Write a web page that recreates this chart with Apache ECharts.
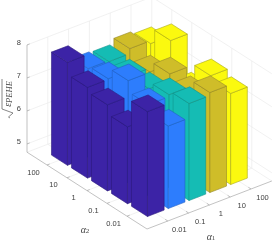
<!DOCTYPE html>
<html><head><meta charset="utf-8">
<style>html,body{margin:0;padding:0;background:#fff}#c{width:275px;height:241px}</style>
<script src="https://cdn.jsdelivr.net/npm/echarts@6/dist/echarts.min.js"></script>
</head><body><div id="c"></div>
<script>
// Data: rows indexed by alpha1, values ordered by alpha2 = 0.01, 0.1, 1, 10, 100
var alpha1Labels = ['0.01','0.1','1','10','100'];
var alpha2Labels = ['0.01','0.1','1','10','100'];
var zTicks = [5,6,7,8];
var valuesA1_001 = [7.93,7.08,7.36,7.50,7.87];
var valuesA1_01  = [7.25,7.51,7.85,7.52,7.44];
var valuesA1_1   = [7.69,7.57,7.36,7.36,7.41];
var valuesA1_10  = [7.78,7.39,7.57,7.24,7.56];
var valuesA1_100 = [7.51,7.66,6.87,7.95,7.47];
var allValues = [valuesA1_001,valuesA1_01,valuesA1_1,valuesA1_10,valuesA1_100];
var faceColors = ['#3c23a6','#2d7dfd','#15bcb4','#cfbd29','#fbf90f'];
var edgeColors = ['#2c1a7c','#2462c4','#10938d','#95882a','#aaa716'];

var ZMIN=4.75, ZMAX=8;
// view projection of the 3D box onto the page plane
var O=[147,229], XV=[20.8,-8], YV=[-20,-12.8], ZV=33;
function P(a,b,z){return [O[0]+XV[0]*a+YV[0]*b, O[1]+XV[1]*a+YV[1]*b-ZV*(z-ZMIN)];}

var barData=[];
for(var s=8;s>=0;s--){for(var i=4;i>=0;i--){var j=s-i;if(j<0||j>4)continue;
  barData.push([i,j,allValues[i][j]]);}}

function renderBar(params,api){
  var i=api.value(0),j=api.value(1),v=api.value(2);
  var a=i+1,b=j+1,w=0.4;
  function q(da,db,z){return api.coord(P(a+da*w,b+db*w,z));}
  var st={fill:faceColors[i],stroke:edgeColors[i],lineWidth:0.6,lineJoin:'round'};
  function face(pts){return {type:'polygon',shape:{points:pts},style:st};}
  return {type:'group',children:[
    face([q(-1,-1,ZMIN),q(-1,1,ZMIN),q(-1,1,v),q(-1,-1,v)]),
    face([q(-1,-1,ZMIN),q(1,-1,ZMIN),q(1,-1,v),q(-1,-1,v)]),
    face([q(-1,-1,v),q(1,-1,v),q(1,1,v),q(-1,1,v)])
  ]};
}
function line(api,p1,p2,color,w){var a=api.coord(p1),b=api.coord(p2);
  return {type:'line',shape:{x1:a[0],y1:a[1],x2:b[0],y2:b[1]},style:{stroke:color,lineWidth:w||0.7}};}
function label(pt,txt,align,api){var c=api.coord(pt);
  return {type:'text',x:c[0],y:c[1],style:{text:txt,fill:'#404040',font:'7.5px "Liberation Sans"',align:align||'center',verticalAlign:'middle'}};}
function renderFrame(params,api){
  var ch=[],G='#ebebeb',A='#a8a8a8',k;
  for(k=1;k<=5;k++){
    ch.push(line(api,P(k,6,ZMIN),P(k,6,ZMAX),G));
    ch.push(line(api,P(6,k,ZMIN),P(6,k,ZMAX),G));
    ch.push(line(api,P(k,0,ZMIN),P(k,6,ZMIN),G));
    ch.push(line(api,P(0,k,ZMIN),P(6,k,ZMIN),G));
  }
  zTicks.concat([ZMIN]).forEach(function(z){
    ch.push(line(api,P(0,6,z),P(6,6,z),G));
    ch.push(line(api,P(6,6,z),P(6,0,z),G));
  });
  ch.push(line(api,P(6,6,ZMIN),P(6,6,ZMAX),G));
  ch.push(line(api,P(0,6,ZMIN),P(0,6,ZMAX),A));
  ch.push(line(api,P(0,0,ZMIN),P(0,6,ZMIN),A));
  ch.push(line(api,P(0,0,ZMIN),P(6,0,ZMIN),A));
  for(k=1;k<=5;k++){
    ch.push(line(api,P(k,0,ZMIN),P(k,0.13,ZMIN),A));
    ch.push(line(api,P(0,k,ZMIN),P(0.13,k,ZMIN),A));
  }
  zTicks.forEach(function(z){ch.push(line(api,P(0,6,z),P(0.13,6,z),A));});
  alpha1Labels.forEach(function(t,n){var p=P(n+1,0,ZMIN);ch.push(label([p[0]+11.5,p[1]+9],t,'center',api));});
  alpha2Labels.forEach(function(t,n){var p=P(0,n+1,ZMIN);ch.push(label([p[0]-13.5,p[1]+7.5],t,'center',api));});
  zTicks.forEach(function(z){var p=P(0,6,z);ch.push(label([p[0]-6,p[1]-2],String(z),'right',api));});
  return {type:'group',children:ch};
}
function mathText(x,y,sym,sub,rot,symSize,subSize){
  return {type:'text',x:x,y:y,rotation:rot||0,style:{
    text:'{a|'+sym+'}{b|'+sub+'}',align:'center',verticalAlign:'middle',
    rich:{a:{font:'italic '+symSize+'px "Liberation Serif"',fill:'#454545'},
          b:{font:(sub.length>1?'italic ':'')+subSize+'px "Liberation Serif"',fill:'#454545',padding:[3,0,0,0]}}}};
}
var chart=echarts.init(document.getElementById('c'),null,{renderer:'canvas'});
chart.setOption({
  animation:false,
  grid:{left:0,right:0,top:0,bottom:0},
  xAxis:{type:'value',min:0,max:275,show:false},
  yAxis:{type:'value',min:0,max:241,inverse:true,show:false},
  series:[
    {type:'custom',coordinateSystem:'cartesian2d',data:[[0,0]],renderItem:renderFrame,silent:true,clip:false,z:1},
    {type:'custom',coordinateSystem:'cartesian2d',data:barData,encode:{x:0,y:1},renderItem:renderBar,silent:true,clip:false,z:2},
    {type:'custom',coordinateSystem:'cartesian2d',data:[[0,0]],silent:true,clip:false,z:3,renderItem:function(p,api){
      return {type:'group',children:[
        mathText(211,237,'α','1',0,10,7),
        mathText(85,230,'α','2',0,10,7),
        mathText(8,94,'ε','PEHE',Math.PI/2,10,8.5),
        {type:'polyline',shape:{points:[[2,79],[2,109],[13,113],[8.5,117],[10,118]]},style:{stroke:'#555',lineWidth:0.7,fill:null}}
      ]};
    }}
  ]
});
</script></body></html>
